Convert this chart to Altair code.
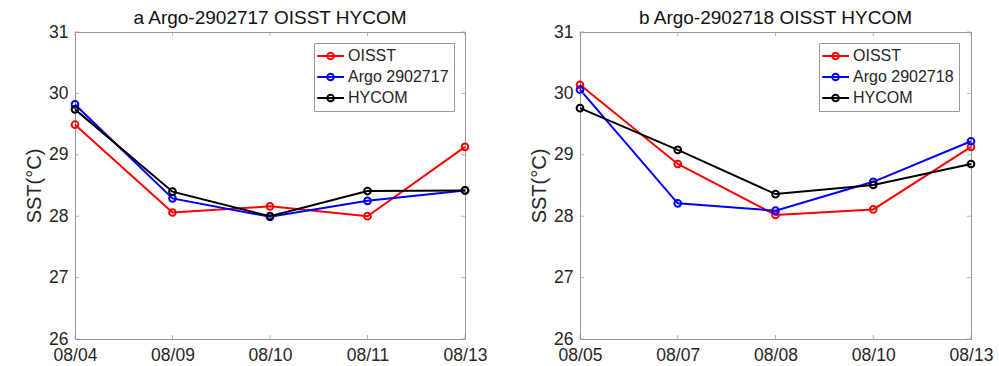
import altair as alt
import pandas as pd

# ---- data ----
dates_a = ["08/04", "08/09", "08/10", "08/11", "08/13"]
oisst_a = [29.49, 28.06, 28.16, 28.00, 29.13]
argo_a = [29.82, 28.29, 27.99, 28.25, 28.42]
hycom_a = [29.74, 28.40, 28.00, 28.41, 28.42]

dates_b = ["08/05", "08/07", "08/08", "08/10", "08/13"]
oisst_b = [30.14, 28.85, 28.02, 28.11, 29.13]
argo_b = [30.06, 28.21, 28.09, 28.56, 29.22]
hycom_b = [29.76, 29.08, 28.36, 28.51, 28.85]

y_ticks = [26, 27, 28, 29, 30, 31]
series_colors = ["#ff0000", "#0000ff", "#000000"]

FONT = "Liberation Sans"
TXT = "#262626"
FRAME = "#999999"
W_A, W_B, H = 390, 391, 307

LEGEND_PATH = ("M-1.39,0L2.43,0M0.98,0A0.47,0.47,0,1,1,0.04,0"
               "A0.47,0.47,0,1,1,0.98,0")


def panel(dates, oisst, argo, hycom, argo_name, title, width):
    names = ["OISST", argo_name, "HYCOM"]
    values = [oisst, argo, hycom]
    x = alt.X("date:O", sort=dates,
              scale=alt.Scale(type="point", padding=0),
              axis=alt.Axis(title=None, labelAngle=0, ticks=False, domain=False,
                            grid=False, labelPadding=7, labelFontSize=17.5,
                            labelFont=FONT, labelColor=TXT))
    y = alt.Y("sst:Q", scale=alt.Scale(domain=[26, 31], nice=False, zero=False),
              axis=alt.Axis(values=y_ticks, format="d", title="SST(°C)", ticks=False,
                            domain=False, grid=False, labelPadding=7,
                            labelFontSize=17.5, labelFont=FONT, labelColor=TXT,
                            titleFont=FONT, titleFontSize=20,
                            titleFontWeight="normal", titleColor=TXT,
                            titlePadding=4))
    color = alt.Color("series:N",
                      scale=alt.Scale(domain=names, range=series_colors),
                      legend=alt.Legend(title=None, orient="none",
                                        legendX=239, legendY=11,
                                        symbolType=LEGEND_PATH, symbolSize=196,
                                        symbolStrokeWidth=2,
                                        symbolFillColor="transparent",
                                        labelFont=FONT, labelFontSize=16,
                                        labelColor=TXT, labelOffset=13,
                                        rowPadding=5, padding=5,
                                        strokeColor=FRAME, fillColor="white",
                                        cornerRadius=0))
    layers = []
    first = True
    for name, vals in zip(names, values):
        df = pd.DataFrame({"date": dates, "sst": vals, "series": [name] * len(dates)})
        base = alt.Chart(df)
        xx = x if first else alt.X("date:O", sort=dates)
        yy = y if first else alt.Y("sst:Q")
        layers.append(base.mark_line(strokeWidth=2).encode(x=xx, y=yy, color=color))
        layers.append(base.mark_point(shape="circle", filled=False, size=45,
                                      strokeWidth=2, opacity=1).encode(
            x=alt.X("date:O", sort=dates), y=alt.Y("sst:Q"), color=color))
        first = False
    # inward ticks (like MATLAB box axes)
    ydf = pd.DataFrame({"sst": y_ticks})
    xdf = pd.DataFrame({"date": dates})
    tick_y = alt.Y("sst:Q")
    tick_x = alt.X("date:O", sort=dates)
    layers.append(alt.Chart(ydf).mark_tick(orient="horizontal", size=4, thickness=1,
                                           color=FRAME).encode(y=tick_y, x=alt.value(2)))
    layers.append(alt.Chart(ydf).mark_tick(orient="horizontal", size=4, thickness=1,
                                           color=FRAME).encode(y=tick_y, x=alt.value(width - 2)))
    layers.append(alt.Chart(xdf).mark_tick(orient="vertical", size=4, thickness=1,
                                           color=FRAME).encode(x=tick_x, y=alt.value(2)))
    layers.append(alt.Chart(xdf).mark_tick(orient="vertical", size=4, thickness=1,
                                           color=FRAME).encode(x=tick_x, y=alt.value(H - 2)))
    return alt.layer(*layers).properties(
        width=width, height=H,
        title=alt.TitleParams(title, font=FONT, fontSize=19, fontWeight="normal",
                              color="#111111", anchor="middle", offset=-5,
                              frame="group"))


left = panel(dates_a, oisst_a, argo_a, hycom_a, "Argo 2902717",
             "a Argo-2902717 OISST HYCOM", W_A)
right = panel(dates_b, oisst_b, argo_b, hycom_b, "Argo 2902718",
              "b Argo-2902718 OISST HYCOM", W_B)

chart = alt.hconcat(left, right, spacing=41).resolve_scale(
    color="independent", x="independent").resolve_legend(
    color="independent").properties(
    padding={"left": 24, "top": 8, "right": 0, "bottom": 0},
    background="white").configure_view(stroke=FRAME, strokeWidth=1)

chart.save("out.html", embed_options={"renderer": "svg", "actions": False})
